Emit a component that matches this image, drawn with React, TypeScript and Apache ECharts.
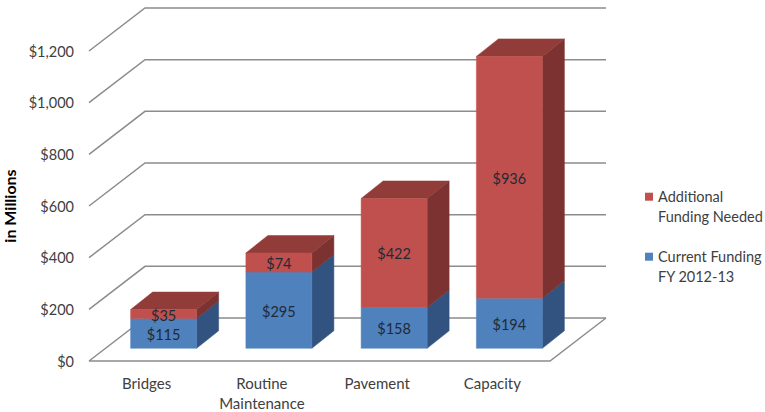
import React, { useEffect, useRef } from "react";
import * as echarts from "echarts";

const categories = ["Bridges", "Routine\nMaintenance", "Pavement", "Capacity"];
const currentFunding = [115, 295, 158, 194];
const additionalFunding = [35, 74, 422, 936];
const yTicks = [0, 200, 400, 600, 800, 1000, 1200];
const currentName = "Current Funding\nFY 2012-13";
const additionalName = "Additional\nFunding Needed";

const FONT = "Lato";
const TEXT = "#404040";
const WALL_DX = 56;
const WALL_DY = 43;
const BAR_W = 66;
const BAR_DX = 22;
const BAR_DY = 17.5;
const BAR_OFFSET_X = 17;
const BAR_OFFSET_Y = 12.7;

type Pt = number[];
const poly = (points: Pt[], fill: string) => ({
  type: "polygon",
  shape: { points },
  style: { fill, stroke: fill, lineWidth: 0.5 },
});

const barRenderer =
  (front: string, side: string, top: string | null, labelShift: number[]) =>
  (params: any, api: any) => {
    const i = api.value(0);
    const base = api.coord([i, api.value(1)]);
    const end = api.coord([i, api.value(1) + api.value(2)]);
    const x0 = base[0] + BAR_OFFSET_X - BAR_W / 2;
    const x1 = x0 + BAR_W;
    const y0 = base[1] - BAR_OFFSET_Y;
    const y1 = end[1] - BAR_OFFSET_Y;
    const children: any[] = [
      poly([[x1, y0], [x1 + BAR_DX, y0 - BAR_DY], [x1 + BAR_DX, y1 - BAR_DY], [x1, y1]], side),
    ];
    if (top) {
      children.push(poly([[x0, y1], [x1, y1], [x1 + BAR_DX, y1 - BAR_DY], [x0 + BAR_DX, y1 - BAR_DY]], top));
    }
    children.push(poly([[x0, y0], [x1, y0], [x1, y1], [x0, y1]], front));
    children.push({
      type: "text",
      style: {
        text: "$" + api.value(2),
        x: (x0 + x1) / 2 + labelShift[0],
        y: (y0 + y1) / 2 + labelShift[1],
        align: "center",
        verticalAlign: "middle",
        fill: "#1f2a36",
        font: `14.5px ${FONT}`,
      },
    });
    return { type: "group", children };
  };

const wallRenderer = (params: any, api: any) => {
  const c = api.coord([0, api.value(1)]);
  const band = api.size([1, 0])[0];
  const left = c[0] - band / 2;
  const right = left + band * categories.length;
  const y = c[1];
  const line = { stroke: "#8c8c8c", lineWidth: 1.5, fill: "none" };
  const children: any[] = [
    {
      type: "polyline",
      shape: { points: [[left, y], [left + WALL_DX, y - WALL_DY], [right + WALL_DX, y - WALL_DY]] },
      style: line,
    },
  ];
  if (api.value(1) === 0) {
    children.push({
      type: "polyline",
      shape: { points: [[left, y], [right, y], [right + WALL_DX, y - WALL_DY]] },
      style: line,
    });
  }
  return { type: "group", children };
};

export default function App() {
  const ref = useRef<HTMLDivElement>(null);
  useEffect(() => {
    const chart = echarts.init(ref.current!, undefined, { renderer: "svg" });
    chart.setOption({
      animation: false,
      backgroundColor: "#ffffff",
      grid: { left: 89, top: 51, width: 461, height: 310, containLabel: false, outerBoundsMode: "none" },
      xAxis: {
        type: "category",
        data: categories,
        axisLine: { show: false },
        axisTick: { show: false },
        splitLine: { show: false },
        axisLabel: { color: TEXT, fontFamily: FONT, fontSize: 15, margin: 12, lineHeight: 20, interval: 0 },
      },
      yAxis: {
        type: "value",
        min: 0,
        max: 1200,
        interval: 200,
        name: "in Millions",
        nameLocation: "middle",
        nameGap: 68,
        nameTextStyle: { color: "#000000", fontFamily: FONT, fontSize: 16, fontWeight: "bold" },
        axisLine: { show: false },
        axisTick: { show: false },
        splitLine: { show: false },
        axisLabel: {
          color: TEXT,
          fontFamily: FONT,
          fontSize: 14.5,
          margin: 15,
          formatter: (v: number) => "$" + v.toLocaleString("en-US"),
        },
      },
      legend: {
        orient: "vertical",
        left: 645,
        top: 166.7,
        padding: 0,
        itemGap: 0,
        itemWidth: 8,
        itemHeight: 8,
        icon: "rect",
        selectedMode: false,
        data: [additionalName, currentName],
        formatter: (name: string) => "\n" + name,
        textStyle: { color: TEXT, fontFamily: FONT, fontSize: 14.5, lineHeight: 20 },
      },
      series: [
        {
          type: "custom",
          name: "walls",
          silent: true,
          z: 1,
          data: yTicks.map((t) => [0, t]),
          encode: { x: 0, y: 1 },
          renderItem: wallRenderer,
        },
        {
          type: "custom",
          name: currentName,
          z: 2,
          itemStyle: { color: "#4F81BD" },
          data: currentFunding.map((v, i) => [i, 0, v]),
          encode: { x: 0, y: [1, 2] },
          renderItem: barRenderer("#4F81BD", "#325380", null, [0, 1]),
        },
        {
          type: "custom",
          name: additionalName,
          z: 3,
          itemStyle: { color: "#C0504D" },
          data: additionalFunding.map((v, i) => [i, currentFunding[i], v]),
          encode: { x: 0, y: [1, 2] },
          renderItem: barRenderer("#C0504D", "#7B3230", "#913C39", [0, 1]),
        },
      ],
    });
    return () => chart.dispose();
  }, []);
  return (
    <div
      ref={ref}
      style={{ position: "fixed", left: 0, top: 0, width: 765, height: 412, background: "#fff" }}
    />
  );
}
